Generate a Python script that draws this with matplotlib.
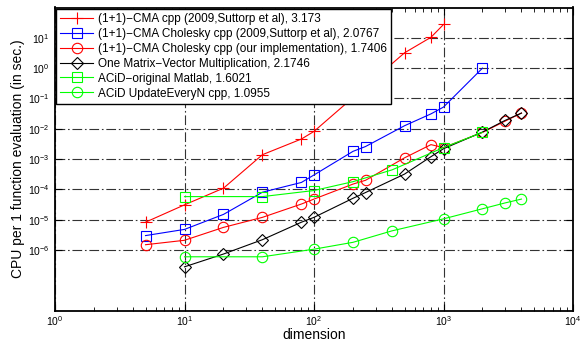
import matplotlib
matplotlib.use("Agg")
import matplotlib.pyplot as plt
from matplotlib.ticker import LogLocator, NullLocator, LogFormatterSciNotation

plt.rcParams['font.family'] = ['Liberation Sans', 'DejaVu Sans']
plt.rcParams['mathtext.default'] = 'regular'
plt.rcParams['lines.scale_dashes'] = False

# ---- data ----
cma_x = [5, 10, 20, 40, 80, 100, 500, 800, 1000]
cma_y = [8.3e-6, 3.1e-5, 1.1e-4, 1.4e-3, 4.6e-3, 8.2e-3, 3.2, 10.4, 27.5]

chol_x = [5, 10, 20, 40, 80, 100, 200, 250, 500, 800, 1000, 2000]
chol_y = [3.0e-6, 4.8e-6, 1.5e-5, 8.1e-5, 1.7e-4, 3.0e-4, 1.8e-3, 2.6e-3, 1.26e-2, 3.1e-2, 5.2e-2, 1.0]

ours_x = [5, 10, 20, 40, 80, 100, 200, 250, 500, 800, 1000, 2000, 3000, 4000]
ours_y = [1.5e-6, 2.1e-6, 5.6e-6, 1.2e-5, 3.3e-5, 4.8e-5, 1.5e-4, 2.0e-4, 1.1e-3, 3.0e-3, 2.4e-3, 7.6e-3, 1.8e-2, 3.3e-2]

mv_x = [10, 20, 40, 80, 100, 200, 250, 500, 800, 1000, 2000, 3000, 4000]
mv_y = [2.8e-7, 7.4e-7, 2.2e-6, 8.3e-6, 1.2e-5, 5.1e-5, 7.9e-5, 3.2e-4, 1.2e-3, 2.2e-3, 7.8e-3, 1.9e-2, 3.3e-2]

acid_m_x = [10, 40, 100, 200, 400, 1000, 2000]
acid_m_y = [5.8e-5, 5.8e-5, 9.2e-5, 1.8e-4, 4.4e-4, 2.4e-3, 7.6e-3]

acid_n_x = [10, 40, 100, 200, 400, 1000, 2000, 3000, 4000]
acid_n_y = [6.0e-7, 6.0e-7, 1.07e-6, 1.8e-6, 4.3e-6, 1.07e-5, 2.3e-5, 3.6e-5, 4.8e-5]

labels = [
    "(1+1)\u2212CMA cpp (2009,Suttorp et al), 3.173",
    "(1+1)\u2212CMA Cholesky cpp (2009,Suttorp et al), 2.0767",
    "(1+1)\u2212CMA Cholesky cpp (our implementation), 1.7406",
    "One Matrix\u2212Vector Multiplication, 2.1746",
    "ACiD\u2212original Matlab, 1.6021",
    "ACiD UpdateEveryN cpp, 1.0955",
]

yticks = [1e-6, 1e-5, 1e-4, 1e-3, 1e-2, 1e-1, 1e0, 1e1]

fig = plt.figure(figsize=(5.81, 3.42), dpi=100)
ax = fig.add_axes([55/581, 1 - 310.7/342, (573-55)/581, (310.7-7.5)/342])

lw = 0.8
ax.plot(cma_x, cma_y, color='#ff0000', marker='+', ms=8, mew=lw, lw=lw, label=labels[0])
ax.plot(chol_x, chol_y, color='#0000ff', marker='s', ms=6.5, mfc='none', mew=lw, lw=lw, label=labels[1])
ax.plot(ours_x, ours_y, color='#ff0000', marker='o', ms=7.5, mfc='none', mew=lw, lw=lw, label=labels[2])
ax.plot(mv_x, mv_y, color='black', marker='D', ms=6, mfc='none', mew=lw, lw=lw, label=labels[3])
ax.plot(acid_m_x, acid_m_y, color='#00ff00', marker='s', ms=6.5, mfc='none', mew=lw, lw=lw, label=labels[4])
ax.plot(acid_n_x, acid_n_y, color='#00ff00', marker='o', ms=7.5, mfc='none', mew=lw, lw=lw, label=labels[5])

ax.set_xscale('log')
ax.set_yscale('log')
ax.set_xlim(1, 1e4)
ax.set_ylim(1e-8, 1e2)
ax.xaxis.set_major_locator(LogLocator(base=10, numticks=10))
ax.xaxis.set_minor_locator(LogLocator(base=10, subs=range(2, 10), numticks=10))
ax.set_yticks(yticks)
ax.yaxis.set_major_formatter(LogFormatterSciNotation())
ax.yaxis.set_minor_locator(NullLocator())

ax.grid(True, which='major', color='0.2', linestyle=(0, (7, 2, 1.2, 2)), linewidth=0.8)
ax.set_axisbelow(True)

ax.tick_params(which='both', direction='in', top=True, right=True, labelsize=7.5)
ax.tick_params(axis='x', pad=2.5)
ax.tick_params(axis='y', pad=4)
ax.tick_params(which='major', length=5, width=0.8)
ax.tick_params(which='minor', length=3, width=0.6)
for s in ax.spines.values():
    s.set_linewidth(1.3)

ax.set_xlabel('dimension', fontsize=10, labelpad=0)
ax.set_ylabel('CPU per 1 function evaluation (in sec.)', fontsize=10, labelpad=2)

leg = ax.legend(loc='upper left', fontsize=8.5, fancybox=False, framealpha=1,
                edgecolor='black', borderaxespad=0.1, handlelength=2.8,
                handletextpad=0.4, labelspacing=0.25, borderpad=0.35)
leg.get_frame().set_linewidth(1.0)

fig.savefig('out.png', dpi=100)
